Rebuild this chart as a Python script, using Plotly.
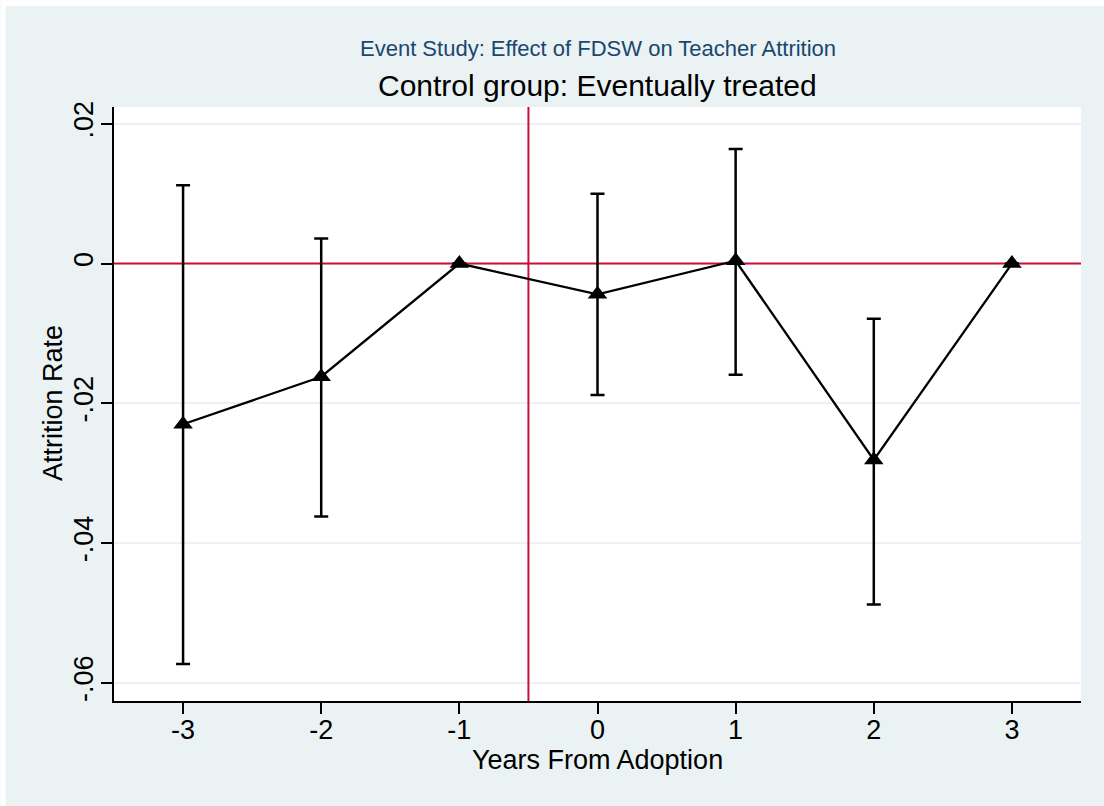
import plotly.graph_objects as go

# Event-study estimates by year relative to adoption
years = [-3, -2, -1, 0, 1, 2, 3]
estimate = [-0.0230, -0.0162, 0.0, -0.0044, 0.0004, -0.0281, 0.0]
ci_low = [-0.0573, -0.0362, None, -0.0188, -0.0159, -0.0488, None]
ci_high = [0.0112, 0.0036, None, 0.0100, 0.0164, -0.0079, None]

y_tickvals = [-0.06, -0.04, -0.02, 0, 0.02]
y_ticktext = ["-.06", "-.04", "-.02", "0", ".02"]
x_tickvals = years
x_range = [-3.5, 3.5]
y_range = [-0.0626, 0.0224]
adoption_cut = -0.5

BG = "#EAF2F3"
FONT = "Liberation Sans, Arial, Helvetica, sans-serif"
RED = "#C8103A"

err_plus = [None if h is None else h - e for h, e in zip(ci_high, estimate)]
err_minus = [None if lo is None else e - lo for lo, e in zip(ci_low, estimate)]

fig = go.Figure()

# Reference lines: zero effect and adoption cut-off (drawn beneath the estimates)
fig.add_trace(go.Scatter(x=x_range, y=[0, 0], mode="lines",
                         line=dict(color=RED, width=2), hoverinfo="skip", showlegend=False))
fig.add_trace(go.Scatter(x=[adoption_cut, adoption_cut], y=y_range, mode="lines",
                         line=dict(color=RED, width=2), hoverinfo="skip", showlegend=False))

fig.add_trace(go.Scatter(
    x=years, y=estimate,
    mode="lines+markers",
    line=dict(color="black", width=2.3),
    marker=dict(symbol="triangle-up", size=17, color="black"),
    error_y=dict(type="data", symmetric=False, array=err_plus, arrayminus=err_minus,
                 color="black", thickness=2.5, width=7),
    showlegend=False,
))

# Thin white strips along the top and left edges of the page
W, H = 1104, 806
L, R, T, B = 113.5, 1081, 107, 701
pw, ph = R - L, B - T
def px(x):
    return (x - L) / pw
def py(y):
    return (B - y) / ph
fig.add_shape(type="rect", xref="paper", yref="paper", x0=px(0), x1=px(5), y0=py(0), y1=py(W),
              fillcolor="white", line=dict(width=0), layer="above")
fig.add_shape(type="rect", xref="paper", yref="paper", x0=px(0), x1=px(W), y0=py(0), y1=py(6),
              fillcolor="white", line=dict(width=0), layer="above")

annotations = [
    dict(text="Event Study: Effect of FDSW on Teacher Attrition", x=0.5, y=py(48),
         font=dict(size=22, color="#1A476F", family=FONT)),
    dict(text="Control group: Eventually treated", x=0.5, y=py(85),
         font=dict(size=30, color="black", family=FONT)),
    dict(text="Years From Adoption", x=0.5, y=py(760),
         font=dict(size=27, color="black", family=FONT)),
    dict(text="Attrition Rate", x=px(52), y=py(403.5), textangle=-90,
         font=dict(size=27, color="black", family=FONT)),
]
for a in annotations:
    a.update(xref="paper", yref="paper", xanchor="center", yanchor="middle", showarrow=False)

fig.update_layout(
    width=W, height=H,
    margin=dict(l=L, r=W - R, t=T, b=H - B, pad=0),
    paper_bgcolor=BG, plot_bgcolor="white",
    font=dict(family=FONT, size=26, color="black"),
    annotations=annotations,
    xaxis=dict(range=x_range, tickvals=x_tickvals, ticktext=[str(v) for v in x_tickvals],
               showgrid=False, zeroline=False, showline=True, linecolor="black", linewidth=2,
               ticks="outside", ticklen=11, tickwidth=2, tickcolor="black",
               tickfont=dict(size=27), ticklabelstandoff=-7),
    yaxis=dict(range=y_range, tickvals=y_tickvals, ticktext=y_ticktext,
               tickangle=-90, showgrid=True, gridcolor=BG, gridwidth=1.5, zeroline=False,
               showline=True, linecolor="black", linewidth=2,
               ticks="outside", ticklen=11, tickwidth=2, tickcolor="black",
               tickfont=dict(size=27), ticklabelstandoff=-3),
)

fig.write_html("out.html")
